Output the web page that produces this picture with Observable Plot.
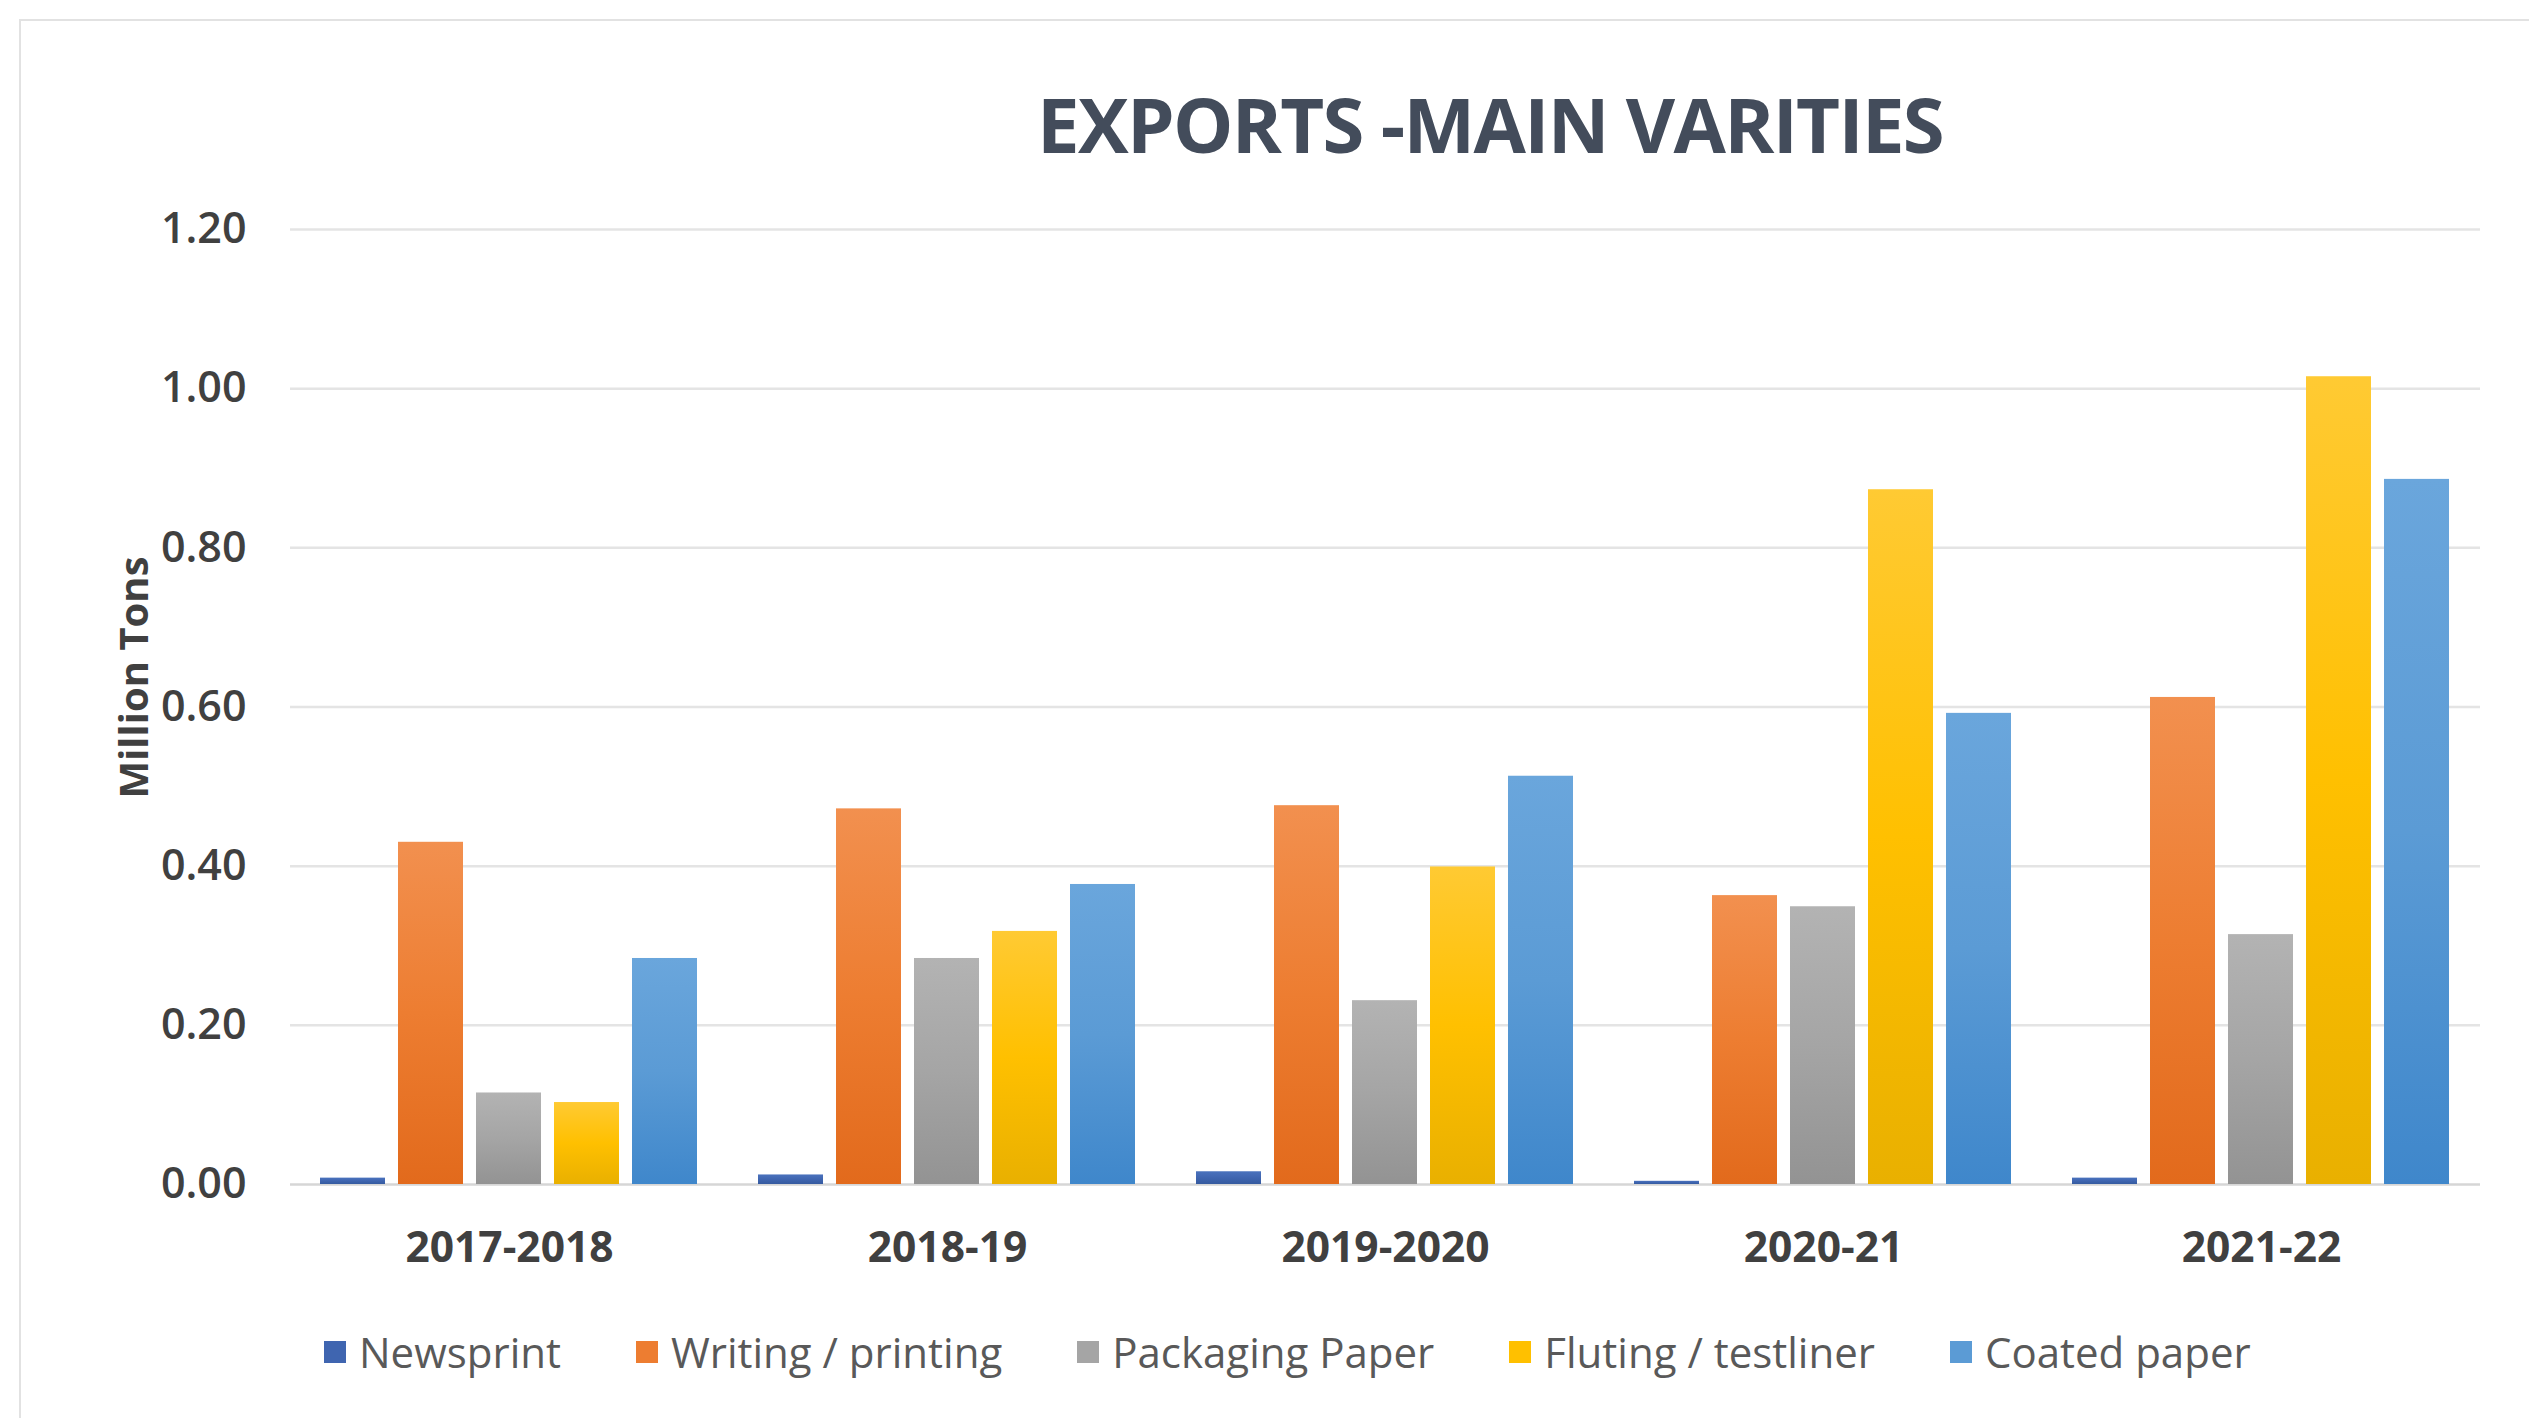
<!DOCTYPE html>
<html>
<head>
<meta charset="utf-8">
<script src="https://cdn.jsdelivr.net/npm/d3@7"></script>
<script src="https://cdn.jsdelivr.net/npm/@observablehq/plot@0.6"></script>
<style>
  html, body { margin: 0; padding: 0; background: #fff; }
  #page { position: relative; width: 2529px; height: 1418px; overflow: hidden; font-family: "Open Sans", sans-serif; }
  #frame { position: absolute; left: 19px; top: 19px; width: 2600px; height: 1500px; border: 2px solid #e2e2e2; box-sizing: border-box; }
  #title { position: absolute; left: 1490px; top: 86px; transform: translateX(-50%); white-space: nowrap;
           font-size: 76px; line-height: 1; font-weight: 700; color: #434c5b; letter-spacing: -1.7px; z-index: 2; }
  #chart { position: absolute; left: 0; top: 150px; }
  #legend { position: absolute; left: 324px; top: 1331px; display: flex; gap: 75px; align-items: center;
            font-size: 42px; line-height: 1; color: #595959; white-space: nowrap; }
  .item { display: flex; align-items: center; gap: 13px; }
  .swatch { width: 22px; height: 22px; display: inline-block; }
</style>
</head>
<body>
<div id="page">
  <div id="frame"></div>
  <div id="chart"></div>
  <div id="title">EXPORTS -MAIN VARITIES</div>
  <div id="legend"></div>
</div>
<script>
const years = ["2017-2018", "2018-19", "2019-2020", "2020-21", "2021-22"];
const series = ["Newsprint", "Writing / printing", "Packaging Paper", "Fluting / testliner", "Coated paper"];
const newsprint = [0.008, 0.012, 0.016, 0.004, 0.008];
const writing   = [0.430, 0.472, 0.476, 0.363, 0.612];
const packaging = [0.115, 0.284, 0.231, 0.349, 0.314];
const fluting   = [0.103, 0.318, 0.399, 0.873, 1.015];
const coated    = [0.284, 0.377, 0.513, 0.592, 0.886];
const yTicks = [0, 0.2, 0.4, 0.6, 0.8, 1.0, 1.2];
const colors = ["#3f65b0", "#ed7d31", "#a5a5a5", "#ffc000", "#5b9bd5"];
const topColors = ["#4a72bd", "#f2904f", "#b3b3b3", "#ffca33", "#6aa6dc"];
const bottomColors = ["#355a9f", "#e26a1c", "#939393", "#e9b000", "#3f87cb"];

const valuesBySeries = [newsprint, writing, packaging, fluting, coated];
const data = [];
years.forEach((yr, i) => series.forEach((s, j) => data.push({year: yr, series: s, value: valuesBySeries[j][i]})));

const plot = Plot.plot({
  width: 2529,
  height: 1124,
  marginTop: 79,
  marginBottom: 90,
  marginLeft: 289,
  marginRight: 48,
  style: {fontFamily: "Open Sans, sans-serif", background: "transparent"},
  y: {domain: [0, 1.2], axis: null},
  x: {domain: series, paddingInner: 0.165, paddingOuter: 0.355, axis: null},
  fx: {domain: years, padding: 0, axis: null, label: null},
  color: {domain: series, range: colors},
  marks: [
    Plot.gridY({ticks: yTicks.filter(d => d > 0), stroke: "#e4e4e4", strokeOpacity: 1, strokeWidth: 2.5}),
    Plot.ruleY([0], {stroke: "#d6d6d6", strokeWidth: 2.5}),
    Plot.barY(data, {fx: "year", x: "series", y: "value", fill: "series"}),
    Plot.axisY({ticks: yTicks, tickFormat: d3.format(".2f"), tickSize: 0, tickPadding: 44,
                fontSize: 43, fontWeight: 600, fill: "#404040", label: null}),
    Plot.axisFx({anchor: "bottom", tickSize: 0, tickPadding: 47, fontSize: 42.5, fontWeight: 700,
                 fill: "#404040", label: null}),
    Plot.text(["Million Tons"], {frameAnchor: "left", textAnchor: "middle", dx: -155, dy: -29.5, rotate: -90,
                 fontSize: 40, fontWeight: 700, fill: "#404040", facet: "super"})
  ]
});

// subtle vertical gradients for the bars, like the original office-style fill
const ns = "http://www.w3.org/2000/svg";
const defs = document.createElementNS(ns, "defs");
colors.forEach((c, i) => {
  const g = document.createElementNS(ns, "linearGradient");
  g.setAttribute("id", "grad" + i);
  g.setAttribute("x1", "0"); g.setAttribute("y1", "0");
  g.setAttribute("x2", "0"); g.setAttribute("y2", "1");
  [[0, topColors[i]], [0.5, colors[i]], [1, bottomColors[i]]].forEach(([o, col]) => {
    const st = document.createElementNS(ns, "stop");
    st.setAttribute("offset", o);
    st.setAttribute("stop-color", col);
    g.appendChild(st);
  });
  defs.appendChild(g);
});
plot.insertBefore(defs, plot.firstChild);
plot.querySelectorAll("rect").forEach(r => {
  const f = (r.getAttribute("fill") || "").toLowerCase();
  const idx = colors.indexOf(f);
  if (idx >= 0) r.setAttribute("fill", `url(#grad${idx})`);
});
document.getElementById("chart").appendChild(plot);

const legend = document.getElementById("legend");
series.forEach((s, i) => {
  const item = document.createElement("div");
  item.className = "item";
  const sw = document.createElement("span");
  sw.className = "swatch";
  sw.style.background = colors[i];
  const t = document.createElement("span");
  t.textContent = s;
  item.appendChild(sw);
  item.appendChild(t);
  legend.appendChild(item);
});
</script>
</body>
</html>
